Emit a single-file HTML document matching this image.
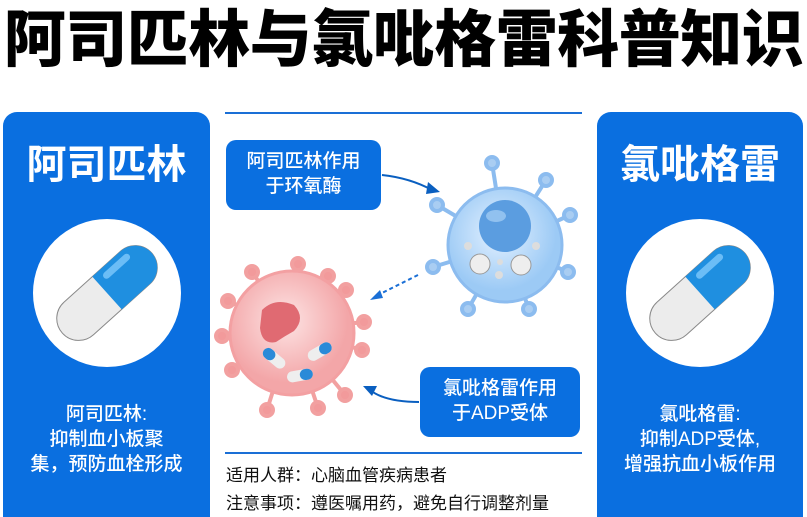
<!DOCTYPE html>
<html><head><meta charset="utf-8"><style>
*{margin:0;padding:0;box-sizing:border-box}
html,body{width:807px;height:517px;overflow:hidden}
body{background:#fff;position:relative;font-family:"Liberation Sans","Noto Sans CJK SC",sans-serif}
.a{position:absolute}
.t{left:0;top:5px;width:807px;text-align:center;font-size:62px;font-weight:900;color:#000;line-height:72px;letter-spacing:-0.5px;white-space:nowrap}
.panel{background:#0a6fe0;border-radius:14px;width:207px;height:420px;top:112px;color:#fff;text-align:center}
.pt{position:absolute;top:28px;width:100%;font-size:40px;font-weight:700;line-height:50px}
.pd{position:absolute;top:290px;width:100%;font-size:19px;line-height:25px;font-weight:500}
.circ{position:absolute;left:30px;top:107px;width:148px;height:148px;border-radius:50%;background:#fff}
.box{background:#0a6fe0;border-radius:10px;color:#fff;text-align:center;font-size:19px;line-height:25px;padding-top:9px;font-weight:500}
.nt{font-size:17px;color:#111;line-height:28px;white-space:nowrap}
</style></head><body>
<div class="a t">阿司匹林与氯吡格雷科普知识</div>

<div class="a panel" style="left:3px">
 <div class="pt">阿司匹林</div>
 <div class="circ"></div>
 <svg class="a" style="left:30px;top:107px" width="148" height="148" viewBox="0 0 148 148">
  <g transform="rotate(-42 74 74)">
   <rect x="14" y="52" width="120" height="44" rx="22" fill="#ececec" stroke="#888" stroke-width="1"/>
   <path d="M74 52 H112 A22 22 0 0 1 112 96 H74 Z" fill="#1f8fe0"/>
   <rect x="82" y="57" width="34" height="7" rx="3.5" fill="#8cd0ff" opacity=".7"/>
  </g>
 </svg>
 <div class="pd">阿司匹林:<br>抑制血小板聚<br>集，预防血栓形成</div>
</div>

<div class="a panel" style="left:597px;width:206px">
 <div class="pt">氯吡格雷</div>
 <div class="circ" style="left:29px"></div>
 <svg class="a" style="left:29px;top:107px" width="148" height="148" viewBox="0 0 148 148">
  <g transform="rotate(-42 74 74)">
   <rect x="14" y="52" width="120" height="44" rx="22" fill="#ececec" stroke="#888" stroke-width="1"/>
   <path d="M74 52 H112 A22 22 0 0 1 112 96 H74 Z" fill="#1f8fe0"/>
   <rect x="82" y="57" width="34" height="7" rx="3.5" fill="#8cd0ff" opacity=".7"/>
  </g>
 </svg>
 <div class="pd">氯吡格雷:<br>抑制ADP受体,<br>增强抗血小板作用</div>
</div>

<div class="a" style="left:225px;top:112px;width:357px;height:2px;background:#1a6fd6"></div>
<div class="a" style="left:225px;top:452px;width:357px;height:2px;background:#1a6fd6"></div>

<svg class="a" style="left:200px;top:100px" width="400" height="350" viewBox="200 100 400 350">
 <defs>
  <radialGradient id="bg" cx=".45" cy=".4"><stop offset="0" stop-color="#e4f1ff"/><stop offset="1" stop-color="#9ccaf5"/></radialGradient>
  <radialGradient id="rg" cx=".45" cy=".4"><stop offset="0" stop-color="#fde4e4"/><stop offset="1" stop-color="#f3a6a8"/></radialGradient>
 </defs>
 <g stroke="#8cbcef" stroke-width="4" fill="#a9cdf2">
  <line x1="505" y1="245" x2="492" y2="163"/><line x1="505" y1="245" x2="546" y2="180"/>
  <line x1="505" y1="245" x2="570" y2="215"/><line x1="505" y1="245" x2="568" y2="272"/>
  <line x1="505" y1="245" x2="529" y2="309"/><line x1="505" y1="245" x2="468" y2="309"/>
  <line x1="505" y1="245" x2="433" y2="267"/><line x1="505" y1="245" x2="437" y2="205"/>
  <circle cx="492" cy="163" r="6"/><circle cx="546" cy="180" r="6"/><circle cx="570" cy="215" r="6"/><circle cx="568" cy="272" r="6"/>
  <circle cx="529" cy="309" r="6"/><circle cx="468" cy="309" r="6"/><circle cx="433" cy="267" r="6"/><circle cx="437" cy="205" r="6"/>
 </g>
 <circle cx="505" cy="245" r="57" fill="url(#bg)" stroke="#8cbcef" stroke-width="3"/>
 <circle cx="505" cy="226" r="26" fill="#5b9de0"/>
 <ellipse cx="496" cy="216" rx="10" ry="6" fill="#a8d0f5" opacity=".7"/>
 <circle cx="480" cy="264" r="10" fill="#eee" stroke="#999"/><circle cx="521" cy="265" r="10" fill="#eee" stroke="#999"/>
 <circle cx="468" cy="246" r="4" fill="#ddd"/><circle cx="536" cy="246" r="4" fill="#ddd"/><circle cx="500" cy="262" r="3" fill="#ddd"/><circle cx="499" cy="275" r="4" fill="#ddd"/>
 <g stroke="#f2a0a0" stroke-width="4" fill="#f29a9b">
  <line x1="292" y1="330" x2="228" y2="301"/><line x1="292" y1="330" x2="252" y2="272"/><line x1="292" y1="330" x2="298" y2="264"/>
  <line x1="292" y1="330" x2="328" y2="276"/><line x1="292" y1="330" x2="364" y2="322"/><line x1="292" y1="330" x2="362" y2="350"/>
  <line x1="292" y1="330" x2="345" y2="395"/><line x1="292" y1="330" x2="318" y2="408"/><line x1="292" y1="330" x2="267" y2="410"/>
  <line x1="292" y1="330" x2="232" y2="370"/><line x1="292" y1="330" x2="222" y2="336"/><line x1="292" y1="330" x2="346" y2="290"/>
  <circle cx="228" cy="301" r="6"/><circle cx="252" cy="272" r="6"/><circle cx="298" cy="264" r="6"/><circle cx="328" cy="276" r="6"/>
  <circle cx="364" cy="322" r="6"/><circle cx="362" cy="350" r="6"/><circle cx="345" cy="395" r="6"/><circle cx="318" cy="408" r="6"/>
  <circle cx="267" cy="410" r="6"/><circle cx="232" cy="370" r="6"/><circle cx="222" cy="336" r="6"/><circle cx="346" cy="290" r="6"/>
 </g>
 <circle cx="292" cy="333" r="62" fill="url(#rg)" stroke="#f3a0a2" stroke-width="3"/>
 <path d="M262 310 Q275 297 294 305 Q306 318 294 331 Q285 336 276 342 Q262 345 260 328 Z" fill="#e06a72"/>
 <g transform="rotate(40 273 358)"><rect x="261" y="352" width="26" height="11" rx="5.5" fill="#eee"/><rect x="261" y="352" width="13" height="11" rx="5.5" fill="#2a8ad8"/></g>
 <g transform="rotate(-30 320 352)"><rect x="307" y="346" width="26" height="11" rx="5.5" fill="#eee"/><rect x="320" y="346" width="13" height="11" rx="5.5" fill="#2a8ad8"/></g>
 <g transform="rotate(-10 300 376)"><rect x="287" y="370" width="26" height="11" rx="5.5" fill="#eee"/><rect x="300" y="370" width="13" height="11" rx="5.5" fill="#2a8ad8"/></g>
 <path d="M382 175 Q410 178 432 190" fill="none" stroke="#0a5fc0" stroke-width="2"/>
 <path d="M440 192 L428 182 L426 194 Z" fill="#0a5fc0"/>
 <path d="M418 275 L376 296" fill="none" stroke="#1a6fd6" stroke-width="2" stroke-dasharray="4 3"/>
 <path d="M370 300 L380 290 L383 298 Z" fill="#1a6fd6"/>
 <path d="M419 402 Q385 402 370 390" fill="none" stroke="#0a5fc0" stroke-width="2"/>
 <path d="M363 386 L377 386 L372 396 Z" fill="#0a5fc0"/>
</svg>

<div class="a box" style="left:226px;top:140px;width:155px;height:70px">阿司匹林作用<br>于环氧酶</div>
<div class="a box" style="left:420px;top:367px;width:160px;height:70px">氯吡格雷作用<br>于ADP受体</div>

<div class="a nt" style="left:226px;top:462px">适用人群：心脑血管疾病患者</div>
<div class="a nt" style="left:226px;top:490px">注意事项：遵医嘱用药，避免自行调整剂量</div>
</body></html>
